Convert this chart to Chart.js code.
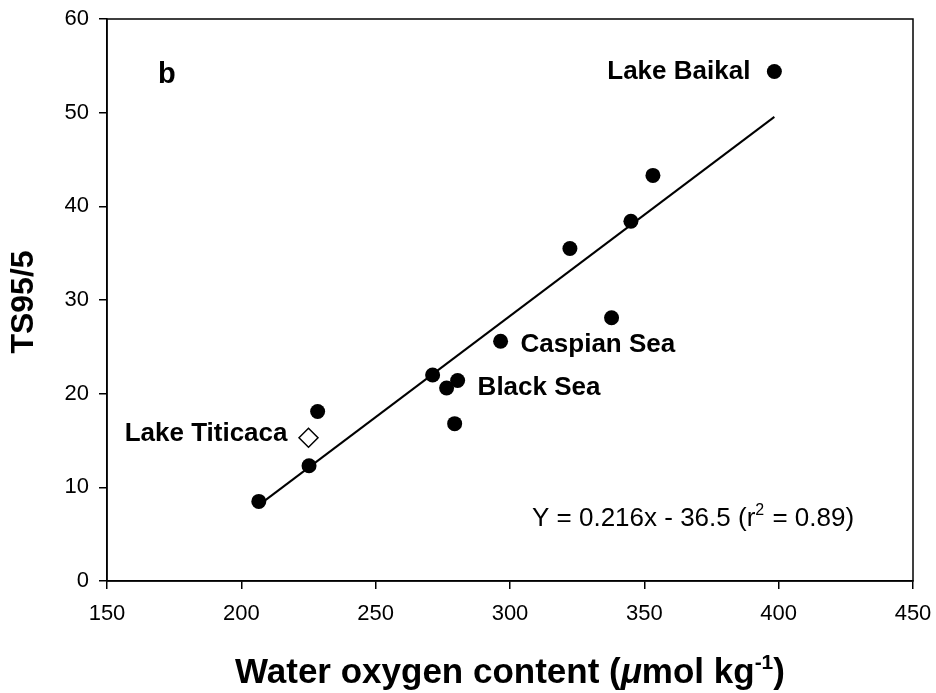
<!DOCTYPE html>
<html>
<head>
<meta charset="utf-8">
<script src="https://cdn.jsdelivr.net/npm/chart.js@4.4.1/dist/chart.umd.min.js"></script>
<style>
    html, body { margin: 0; padding: 0; background: #fff; }
    #wrap { width: 936px; height: 693px; }
</style>
</head>
<body>
<div id="wrap"><canvas id="ts-chart" width="936" height="693"></canvas></div>
<script>
// Oksijen içeriği (µmol/kg) ve TS95/5 değerleri
const oxygen = [206.5, 225.2, 228.4, 271.2, 276.4, 280.5, 279.4, 296.5, 322.3, 337.8, 345.0, 353.2, 398.4];
const ts95 = [8.5, 12.3, 18.1, 22.0, 20.6, 21.4, 16.8, 25.6, 35.5, 28.1, 38.4, 43.3, 54.4];

// Titicaca gölü ayrı işaretle gösteriliyor
const titicacaOxygen = [225.0];
const titicacaTs = [15.3];

// Regresyon katsayıları
const slope = 0.216;
const intercept = -36.5;

const xTicks = [150, 200, 250, 300, 350, 400, 450];
const yTicks = [0, 10, 20, 30, 40, 50, 60];

const FONT = "'Liberation Sans', Arial, Helvetica, sans-serif";

// Nokta etiketleri: hangi noktaya bağlı, hangi tarafa yazılacak
const pointLabels = [
    { text: "Lake Baikal", x: oxygen[12], y: ts95[12], dx: -24, dy: 0, align: "right" },
    { text: "Caspian Sea", x: oxygen[7], y: ts95[7], dx: 20, dy: 4, align: "left" },
    { text: "Black Sea", x: oxygen[5], y: ts95[5], dx: 20, dy: 7, align: "left" },
    { text: "Lake Titicaca", x: titicacaOxygen[0], y: titicacaTs[0], dx: -21, dy: -4, align: "right" },
];

const xMin = Math.min(...oxygen);
const xMax = Math.max(...oxygen);
const fitLine = [
    { x: xMin, y: slope * xMin + intercept },
    { x: xMax, y: slope * xMax + intercept },
];

const textPlugin = {
    id: "texts",
    afterDraw(chart) {
        const ctx = chart.ctx;
        const area = chart.chartArea;
        const xs = chart.scales.x;
        const ys = chart.scales.y;

        ctx.save();
        // çerçeve
        ctx.strokeStyle = "#000";
        ctx.lineWidth = 1.5;
        ctx.strokeRect(area.left, area.top, area.right - area.left, area.bottom - area.top);

        ctx.fillStyle = "#000";
        ctx.textBaseline = "middle";

        // nokta etiketleri
        ctx.font = "bold 26px " + FONT;
        pointLabels.forEach((l) => {
            ctx.textAlign = l.align;
            ctx.fillText(l.text, xs.getPixelForValue(l.x) + l.dx, ys.getPixelForValue(l.y) + l.dy);
        });

        // panel harfi
        ctx.textBaseline = "alphabetic";
        ctx.textAlign = "left";
        ctx.font = "bold 29px " + FONT;
        ctx.fillText("b", area.left + 51, area.top + 64);

        // denklem
        ctx.font = "26px " + FONT;
        let x = area.left + 425;
        const eqY = area.top + 507;
        const part1 = "Y = 0.216x - 36.5 (r";
        ctx.fillText(part1, x, eqY);
        x += ctx.measureText(part1).width;
        ctx.font = "16px " + FONT;
        ctx.fillText("2", x, eqY - 11);
        x += ctx.measureText("2").width + 1;
        ctx.font = "26px " + FONT;
        ctx.fillText(" = 0.89)", x, eqY);

        // x ekseni başlığı
        const parts = [
            { t: "Water oxygen content (", f: "bold 35px " + FONT, dy: 0 },
            { t: "\u03bc", f: "italic bold 35px " + FONT, dy: 0 },
            { t: "mol kg", f: "bold 35px " + FONT, dy: 0 },
            { t: "-1", f: "bold 21px " + FONT, dy: -14 },
            { t: ")", f: "bold 35px " + FONT, dy: 0 },
        ];
        let total = 0;
        parts.forEach((p) => { ctx.font = p.f; total += ctx.measureText(p.t).width; });
        let px = (area.left + area.right) / 2 - total / 2;
        parts.forEach((p) => {
            ctx.font = p.f;
            ctx.fillText(p.t, px, 683 + p.dy);
            px += ctx.measureText(p.t).width;
        });

        // y ekseni başlığı
        ctx.translate(33, 302);
        ctx.rotate(-Math.PI / 2);
        ctx.textAlign = "center";
        ctx.font = "bold 32px " + FONT;
        ctx.fillText("TS95/5", 0, 0);
        ctx.restore();
    },
};

const axisCommon = {
    grid: { display: true, drawOnChartArea: false, drawTicks: true, tickLength: 8, color: "#000", lineWidth: 1.5 },
    border: { display: true, color: "#000", width: 1.5 },
};

new Chart(document.getElementById("ts-chart").getContext("2d"), {
    type: "scatter",
    data: {
        datasets: [
            {
                label: "fit",
                data: fitLine,
                showLine: true,
                borderColor: "#000",
                borderWidth: 2,
                pointRadius: 0,
                order: 3,
            },
            {
                label: "lakes",
                data: oxygen.map((v, i) => ({ x: v, y: ts95[i] })),
                pointStyle: "circle",
                pointRadius: 7.5,
                backgroundColor: "#000",
                borderColor: "#000",
                borderWidth: 0,
                order: 1,
            },
            {
                label: "Titicaca",
                data: titicacaOxygen.map((v, i) => ({ x: v, y: titicacaTs[i] })),
                pointStyle: "rectRot",
                pointRadius: 9.5,
                backgroundColor: "#fff",
                borderColor: "#000",
                borderWidth: 1.5,
                order: 2,
            },
        ],
    },
    options: {
        responsive: false,
        animation: false,
        layout: { padding: { top: 19, right: 23, left: 0, bottom: 0 } },
        plugins: { legend: { display: false }, tooltip: { enabled: false } },
        scales: {
            x: {
                ...axisCommon,
                type: "linear",
                min: xTicks[0],
                max: xTicks[xTicks.length - 1],
                afterBuildTicks: (s) => { s.ticks = xTicks.map((v) => ({ value: v })); },
                afterFit: (s) => { s.height = 112; s.paddingLeft = 0; s.paddingRight = 0; },
                ticks: { color: "#000", font: { family: FONT, size: 22 }, padding: 12, maxRotation: 0 },
            },
            y: {
                ...axisCommon,
                type: "linear",
                min: yTicks[0],
                max: yTicks[yTicks.length - 1],
                afterBuildTicks: (s) => { s.ticks = yTicks.map((v) => ({ value: v })); },
                afterFit: (s) => { s.width = 107; s.paddingTop = 0; s.paddingBottom = 0; },
                ticks: { color: "#000", font: { family: FONT, size: 22 }, padding: 10 },
            },
        },
    },
    plugins: [textPlugin],
});
</script>
</body>
</html>
